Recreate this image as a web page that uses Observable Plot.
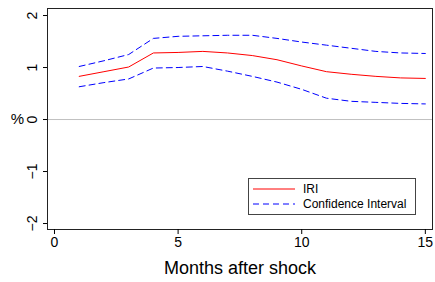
<!DOCTYPE html>
<html><head><meta charset="utf-8">
<script src="https://cdn.jsdelivr.net/npm/d3@7"></script>
<script src="https://cdn.jsdelivr.net/npm/@observablehq/plot@0.6"></script>
<style>
body{margin:0;background:#fff;font-family:"Liberation Sans",Arial,sans-serif;}
#wrap{position:relative;width:435px;height:282px;}
#legend{position:absolute;left:248px;top:178px;width:166px;height:35px;border:1px solid #444;background:#fff;font-size:12px;color:#000;}
.row{position:absolute;left:4px;height:14px;display:flex;align-items:center;}
.row svg{margin-right:8px;}
</style>
</head><body>
<div id="wrap"><div id="legend"></div></div>
<script>
const months = [1,2,3,4,5,6,7,8,9,10,11,12,13,14,15];
const iri   = [0.83,0.92,1.01,1.28,1.29,1.31,1.28,1.23,1.15,1.03,0.92,0.87,0.83,0.80,0.79];
const upper = [1.02,1.13,1.25,1.56,1.60,1.61,1.62,1.62,1.56,1.49,1.43,1.37,1.31,1.28,1.27];
const lower = [0.63,0.71,0.78,0.99,1.00,1.02,0.93,0.83,0.72,0.58,0.41,0.35,0.33,0.31,0.30];
const xTicks = [0,5,10,15];
const yTicks = [-2,-1,0,1,2];
const seriesNames = ["IRI","Confidence Interval"];

const rows = months.map((m,i)=>({m, iri: iri[i], up: upper[i], lo: lower[i]}));

const chart = Plot.plot({
  width: 435, height: 282,
  marginLeft: 47, marginTop: 8, marginRight: 3, marginBottom: 53,
  style: {fontFamily: '"Liberation Sans", Arial, sans-serif', background: "#fff", color: "#000"},
  x: {domain: [-0.283, 15.29]},
  y: {domain: [-2.115, 2.135]},
  marks: [
    Plot.ruleY([0], {stroke: "#c0c0c0", strokeWidth: 1}),
    Plot.line(rows, {x: "m", y: "up", stroke: "#0000ff", strokeWidth: 1, strokeDasharray: "6,4"}),
    Plot.line(rows, {x: "m", y: "lo", stroke: "#0000ff", strokeWidth: 1, strokeDasharray: "6,4"}),
    Plot.line(rows, {x: "m", y: "iri", stroke: "#ff0000", strokeWidth: 1}),
    Plot.frame({stroke: "#222", strokeWidth: 1}),
    Plot.axisX({ticks: xTicks, tickSize: 5, tickPadding: 3, fontSize: 14, label: null}),
    Plot.axisX({ticks: [], tickSize: 0, fontSize: 18, label: "Months after shock", labelAnchor: "center", labelArrow: "none", labelOffset: 44}),
    Plot.axisY({ticks: yTicks, tickSize: 4, tickRotate: -90, fontSize: 14, tickPadding: 7, label: null, tickFormat: d => d < 0 ? "\u2212" + Math.abs(d) : String(d)}),
    Plot.text(["%"], {frameAnchor: "left", textAnchor: "middle", dx: -30, fontSize: 15, text: d => d})
  ]
});
document.getElementById("wrap").prepend(chart);

const lg = document.getElementById("legend");
seriesNames.forEach((name,i)=>{
  const r = document.createElement("div");
  r.className = "row";
  r.style.top = (i === 0 ? 3 : 18) + "px";
  const dash = i === 0 ? "" : 'stroke-dasharray="6,4"';
  const col = i === 0 ? "#ff0000" : "#0000ff";
  r.innerHTML = `<svg width="42" height="4"><line x1="0" y1="2" x2="42" y2="2" stroke="${col}" stroke-width="1" ${dash}/></svg><span>${name}</span>`;
  lg.appendChild(r);
});
</script>
</body></html>
